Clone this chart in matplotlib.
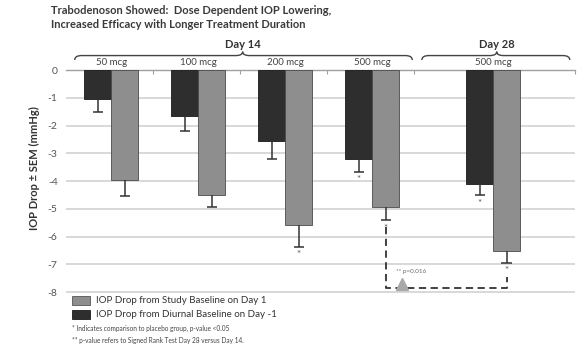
import matplotlib
matplotlib.use("Agg")
import matplotlib.pyplot as plt
from matplotlib.path import Path
from matplotlib.patches import PathPatch, Rectangle

plt.rcParams['font.family'] = ['Lato', 'DejaVu Sans']
plt.rcParams['axes.unicode_minus'] = False

# data
groups = ['50 mcg', '100 mcg', '200 mcg', '500 mcg', '500 mcg']
centers = [0.52, 1.52, 2.52, 3.52, 4.91]
diurnal = [-1.03, -1.66, -2.55, -3.2, -4.1]        # dark bars
diurnal_err = [0.48, 0.53, 0.65, 0.46, 0.42]
study = [-3.95, -4.5, -5.6, -4.92, -6.52]          # gray bars
study_err = [0.58, 0.45, 0.77, 0.5, 0.43]
diurnal_star = [False, False, False, True, True]
study_star = [False, False, True, True, True]

dark = '#2e2e2e'
gray = '#8e8e8e'
w = 0.31
cap = 0.06

fig = plt.figure(figsize=(5.85, 3.53), dpi=100)
ax = fig.add_axes([66 / 585, 1 - 293.4 / 353, 509 / 585, 223.4 / 353])

xd = [c - w / 2 for c in centers]
xs = [c + w / 2 for c in centers]
ax.bar(xd, diurnal, width=w, color=dark, edgecolor='#1a1a1a', linewidth=0.6, zorder=3)
ax.bar(xs, study, width=w, color=gray, edgecolor='#4a4a4a', linewidth=0.6, zorder=3)

# one-sided (downward) error bars
for xx, vals, errs in [(xd, diurnal, diurnal_err), (xs, study, study_err)]:
    lows = [v - e for v, e in zip(vals, errs)]
    ax.vlines(xx, lows, vals, color='#333333', linewidth=1.1, zorder=4)
    ax.hlines(lows, [x - cap for x in xx], [x + cap for x in xx], color='#333333',
              linewidth=1.1, zorder=4)

for x, v, e, s in zip(xd, diurnal, diurnal_err, diurnal_star):
    if s:
        ax.text(x, v - e - 0.12, '*', ha='center', va='top', fontsize=7, color='#555555')
for x, v, e, s in zip(xs, study, study_err, study_star):
    if s:
        ax.text(x, v - e - 0.12, '*', ha='center', va='top', fontsize=7, color='#555555')

ax.set_xlim(0, 5.85)
ax.set_ylim(-8.05, 0)
ax.set_yticks(range(0, -9, -1))
ax.set_yticklabels([str(v) for v in range(0, -9, -1)])
ax.yaxis.grid(True, color='#d8d8d8', linewidth=1.4, zorder=0)
ax.set_axisbelow(True)
for sp in ['left', 'right', 'bottom']:
    ax.spines[sp].set_visible(False)
ax.spines['top'].set_color('#a0a0a0')
ax.spines['top'].set_linewidth(1.0)
ax.tick_params(axis='y', length=0, labelsize=7.5, labelcolor='#555555', pad=6)
ax.xaxis.tick_top()
ax.set_xticks([1, 2, 3, 4, 5.85])
ax.set_xticklabels([])
ax.tick_params(axis='x', direction='in', length=3, color='#a0a0a0', top=True, bottom=False)

ax.set_ylabel('IOP Drop ± SEM (mmHg)', fontsize=8, fontweight='bold', color='#333333')
ax.yaxis.set_label_coords(-0.051, 0.56)

# group labels above axis
for c, g in zip(centers, groups):
    ax.text(c, 0.12, g, ha='center', va='bottom', fontsize=7, color='#444444', clip_on=False)


def brace(x0, x1, xm, y0=0.36, y1=0.52, y2=0.66, r=0.08):
    verts = [(x0, y0), (x0, y1), (x0 + r, y1), (xm - r, y1), (xm, y1), (xm, y2),
             (xm, y1), (xm + r, y1), (x1 - r, y1), (x1, y1), (x1, y0)]
    codes = [Path.MOVETO, Path.CURVE3, Path.CURVE3, Path.LINETO, Path.CURVE3, Path.CURVE3,
             Path.CURVE3, Path.CURVE3, Path.LINETO, Path.CURVE3, Path.CURVE3]
    ax.add_patch(PathPatch(Path(verts, codes), fill=False, edgecolor='#444444',
                           linewidth=1.0, clip_on=False))


brace(0.10, 3.98, 2.03)
brace(4.09, 5.79, 4.95)
ax.text(2.03, 0.72, 'Day 14', ha='center', va='bottom', fontsize=8, fontweight='bold',
        color='#333333', clip_on=False)
ax.text(4.95, 0.72, 'Day 28', ha='center', va='bottom', fontsize=8, fontweight='bold',
        color='#333333', clip_on=False)

# dashed comparison bracket
bx = [xs[3], xs[3], xs[4], xs[4]]
by = [-5.65, -7.86, -7.86, -7.45]
ax.plot(bx, by, linestyle=(0, (4, 2.5)), color='#333333', linewidth=1.3, zorder=5)
ax.plot([3.86], [-7.7], marker='^', markersize=9, color='#a8a8a8', zorder=5)
ax.text(3.79, -7.25, '** p=0.016', ha='left', va='center', fontsize=4.5, color='#666666')

# title
fig.text(51 / 585, 1 - 10 / 353, 'Trabodenoson Showed:  Dose Dependent IOP Lowering,',
         ha='left', va='center', fontsize=8, fontweight='bold', color='#3a3a3a')
fig.text(51 / 585, 1 - 24 / 353, 'Increased Efficacy with Longer Treatment Duration',
         ha='left', va='center', fontsize=8, fontweight='bold', color='#3a3a3a')

# legend
fig.patches.append(Rectangle((72 / 585, 1 - 305 / 353), 18 / 585, 9 / 353,
                             transform=fig.transFigure, facecolor=gray, edgecolor='#555555',
                             linewidth=0.6))
fig.patches.append(Rectangle((72 / 585, 1 - 319 / 353), 18 / 585, 9 / 353,
                             transform=fig.transFigure, facecolor=dark, edgecolor='#1a1a1a',
                             linewidth=0.6))
fig.text(96 / 585, 1 - 300.5 / 353, 'IOP Drop from Study Baseline on Day 1',
         ha='left', va='center', fontsize=7, color='#333333')
fig.text(96 / 585, 1 - 314.5 / 353, 'IOP Drop from Diurnal Baseline on Day -1',
         ha='left', va='center', fontsize=7, color='#333333')
fig.text(72 / 585, 1 - 328 / 353, '* Indicates comparison to placebo group, p-value <0.05',
         ha='left', va='center', fontsize=4.7, color='#444444')
fig.text(72 / 585, 1 - 340 / 353, '** p-value refers to Signed Rank Test Day 28 versus Day 14.',
         ha='left', va='center', fontsize=4.7, color='#444444')

fig.savefig('out.png', dpi=100, facecolor='white')
